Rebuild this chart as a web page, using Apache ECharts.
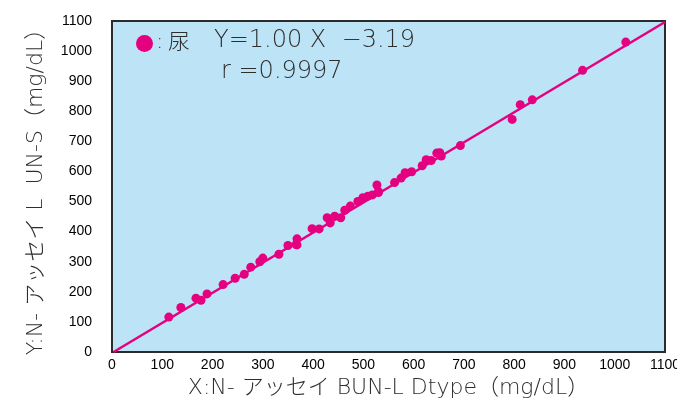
<!DOCTYPE html>
<html>
<head>
<meta charset="utf-8">
<script src="https://cdn.jsdelivr.net/npm/echarts@6/dist/echarts.min.js"></script>
<style>
    html, body { margin:0; padding:0; background:#fff; }
    #chart { width:677px; height:401px; }
</style>
</head>
<body>
<div id="chart"></div>
<script>
// 尿検体: X = N-アッセイ BUN-L Dtype, Y = N-アッセイ L UN-S
let xValues = [113, 137, 167, 177, 189, 221, 245, 263, 276, 294, 300, 332, 350, 366, 368, 368,
    398, 412, 428, 434, 443, 455, 463, 474, 489, 499, 509, 518, 527, 530, 530,
    562, 575, 583, 596, 617, 625, 635, 646, 652, 655, 693, 796, 812, 836, 936, 1022];
let yValues = [116, 148, 179, 172, 193, 224, 245, 258, 282, 300, 312, 325, 354, 357, 356, 376,
    410, 409, 446, 429, 451, 446, 471, 485, 500, 513, 518, 522, 555, 533, 530,
    563, 578, 596, 599, 619, 639, 636, 661, 662, 651, 686, 773, 822, 838, 936, 1030];
let slope = 1.00;
let intercept = -3.19;
let rValue = 0.9997;
let axisTicks = [0, 100, 200, 300, 400, 500, 600, 700, 800, 900, 1000, 1100];

let pink = '#e4007f';
let textGray = '#2e2e2e';
let titleFont = '"DejaVu Sans", "Noto Sans CJK JP"';
let scatterData = xValues.map((x, i) => [x, yValues[i]]);
let lineData = [[-intercept / slope, 0], [1100, slope * 1100 + intercept]];

let myChart = echarts.init(document.getElementById('chart'));
let option = {
    animation:false,
    grid:{
        left:112,
        right:12,
        top:21,
        bottom:49,
        outerBoundsMode:'none',
        containLabel:false,
        show:true,
        backgroundColor:'#bde3f7',
        borderColor:'#2b2b2b',
        borderWidth:2
    },
    xAxis:{
        type:'value',
        min:axisTicks[0],
        max:axisTicks[axisTicks.length - 1],
        interval:100,
        name:'X:N- アッセイ BUN-L Dtype（mg/dL）',
        nameLocation:'middle',
        nameGap:22,
        nameTextStyle:{ color:textGray, fontSize:22, fontFamily:titleFont, fontWeight:200 },
        axisLine:{ show:false },
        axisTick:{ show:false },
        splitLine:{ show:false },
        axisLabel:{ color:'#000', fontSize:14, fontFamily:'Liberation Sans', margin:6, formatter:(v)=>String(v) }
    },
    yAxis:{
        type:'value',
        min:axisTicks[0],
        max:axisTicks[axisTicks.length - 1],
        interval:100,
        name:'Y:N- アッセイ L  UN-S（mg/dL）',
        nameLocation:'middle',
        nameGap:65,
        nameTextStyle:{ color:textGray, fontSize:22, fontFamily:titleFont, fontWeight:200 },
        axisLine:{ show:false },
        axisTick:{ show:false },
        splitLine:{ show:false },
        axisLabel:{ color:'#000', fontSize:14, fontFamily:'Liberation Sans', margin:20, formatter:(v)=>String(v) }
    },
    graphic:[
        { type:'circle', left:136, top:35, shape:{ r:8.5 }, style:{ fill:pink } },
        {
            type:'text', left:156, top:31,
            style:{ text:':', fill:textGray, font:'200 22px ' + titleFont }
        },
        {
            type:'text', left:168, top:30,
            style:{ text:'尿', fill:textGray, font:'300 22px "Noto Sans CJK JP"' }
        },
        {
            type:'text', left:214, top:29,
            style:{ text:'Y=' + slope.toFixed(2) + ' X  −' + Math.abs(intercept).toFixed(2), fill:textGray, font:'200 24px ' + titleFont }
        },
        {
            type:'text', left:221, top:60,
            style:{ text:'r =' + rValue, fill:textGray, font:'200 24px ' + titleFont }
        }
    ],
    series:[
        {
            type:'line',
            data:lineData,
            symbol:'none',
            lineStyle:{ color:pink, width:2.5 },
            z:2
        },
        {
            type:'scatter',
            data:scatterData,
            symbol:'circle',
            symbolSize:9,
            itemStyle:{ color:pink, opacity:1 },
            z:3
        }
    ]
};
myChart.setOption(option);
</script>
</body>
</html>
